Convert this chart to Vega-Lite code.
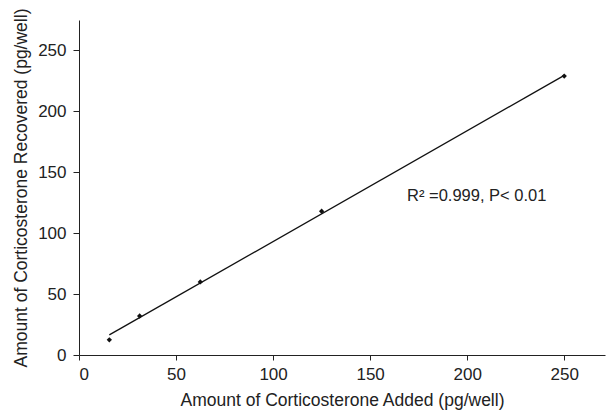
{
  "$schema": "https://vega.github.io/schema/vega-lite/v6.json",
  "autosize": "none",
  "width": 526,
  "height": 335,
  "padding": {"left": 79, "top": 20, "right": 3, "bottom": 55},
  "background": "white",
  "config": {
    "view": {"stroke": null},
    "font": "Liberation Sans",
    "axis": {
      "grid": false,
      "domainColor": "#222",
      "tickColor": "#222",
      "tickSize": 5,
      "labelFont": "Liberation Sans",
      "labelFontSize": 17,
      "labelColor": "#222",
      "titleFont": "Liberation Sans",
      "titleFontSize": 17.5,
      "titleFontWeight": "normal",
      "titleColor": "#222"
    }
  },
  "datasets": {
    "points": [
      {"added": 15.625, "recovered": 12.5},
      {"added": 31.25, "recovered": 32},
      {"added": 62.5, "recovered": 60},
      {"added": 125, "recovered": 118},
      {"added": 250, "recovered": 229}
    ],
    "fit": [
      {"added": 15.625, "recovered": 16.5},
      {"added": 250, "recovered": 229.5}
    ],
    "note": [
      {"added": 169, "recovered": 130.5, "label": "R² =0.999, P< 0.01"}
    ]
  },
  "layer": [
    {
      "data": {"name": "fit"},
      "mark": {"type": "line", "color": "#111", "strokeWidth": 1.3, "clip": true},
      "encoding": {
        "x": {
          "field": "added", "type": "quantitative",
          "scale": {"domain": [0, 271], "nice": false},
          "axis": {"values": [0, 50, 100, 150, 200, 250], "title": "Amount of Corticosterone Added (pg/well)", "titlePadding": 9, "labelPadding": 6}
        },
        "y": {
          "field": "recovered", "type": "quantitative",
          "scale": {"domain": [0, 275], "nice": false},
          "axis": {"values": [0, 50, 100, 150, 200, 250], "title": "Amount of Corticosterone Recovered (pg/well)", "titlePadding": 7, "labelPadding": 7, "tickSize": 6}
        }
      }
    },
    {
      "data": {"name": "points"},
      "mark": {"type": "point", "shape": "diamond", "filled": true, "color": "#111", "size": 28, "opacity": 1},
      "encoding": {
        "x": {"field": "added", "type": "quantitative"},
        "y": {"field": "recovered", "type": "quantitative"}
      }
    },
    {
      "data": {"name": "note"},
      "mark": {"type": "text", "align": "left", "baseline": "middle", "fontSize": 16.5, "color": "#222", "font": "Liberation Sans"},
      "encoding": {
        "x": {"field": "added", "type": "quantitative"},
        "y": {"field": "recovered", "type": "quantitative"},
        "text": {"field": "label"}
      }
    }
  ]
}
